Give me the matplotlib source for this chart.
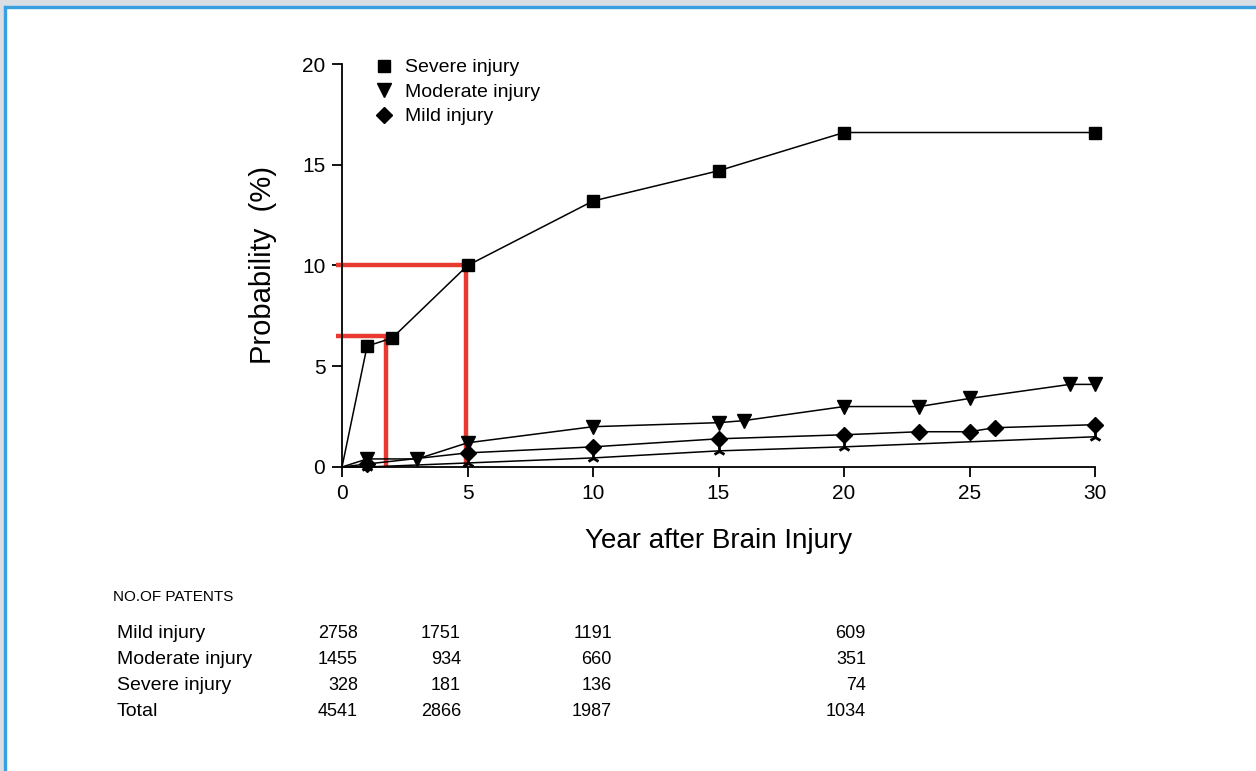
import matplotlib
matplotlib.use("Agg")
import matplotlib.pyplot as plt
from matplotlib.patches import Rectangle

plt.rcParams["font.family"] = ["Liberation Sans", "DejaVu Sans"]

# probability (%) by year after injury
severe_x = [0, 1, 2, 5, 10, 15, 20, 30]
severe_y = [0, 6.0, 6.4, 10.0, 13.2, 14.7, 16.6, 16.6]

moderate_x = [0, 1, 3, 5, 10, 15, 16, 20, 23, 25, 29, 30]
moderate_y = [0, 0.4, 0.4, 1.2, 2.0, 2.2, 2.3, 3.0, 3.0, 3.4, 4.1, 4.1]

mild_x = [0, 1, 5, 10, 15, 20, 23, 25, 26, 30]
mild_y = [0, 0.15, 0.7, 1.0, 1.4, 1.6, 1.75, 1.75, 1.95, 2.1]

other_x = [0, 1, 5, 10, 15, 20, 30]
other_y = [0, 0.0, 0.2, 0.45, 0.8, 1.0, 1.5]

# red guide lines: (x, y)
guides = [(1.75, 6.5), (4.95, 10.0)]

x_ticks = [0, 5, 10, 15, 20, 25, 30]
y_ticks = [0, 5, 10, 15, 20]

table_rows = ["Mild injury", "Moderate injury", "Severe injury", "Total"]
table_vals = [
    [2758, 1751, 1191, 609],
    [1455, 934, 660, 351],
    [328, 181, 136, 74],
    [4541, 2866, 1987, 1034],
]

W, H = 1256, 771
fig = plt.figure(figsize=(W / 100, H / 100), dpi=100)

# page frame
fig.patches.append(Rectangle((0, 1 - 6 / H), 1, 6 / H, transform=fig.transFigure,
                             color="#d9dee4", zorder=0))
fig.patches.append(Rectangle((0, 0), 4 / W, 1, transform=fig.transFigure,
                             color="#d9dee4", zorder=0))
fig.patches.append(Rectangle((4 / W, 1 - 8 / H), 1, 2 / H, transform=fig.transFigure,
                             color="#3a9fe0", zorder=1))
fig.patches.append(Rectangle((4 / W, 0), 2 / W, 1 - 6 / H, transform=fig.transFigure,
                             color="#3a9fe0", zorder=1))

ax = fig.add_axes([342 / W, 1 - 467 / H, (1095 - 342) / W, (467 - 64) / H])
ax.set_xlim(0, 30)
ax.set_ylim(0, 20)

for gx, gy in guides:
    ax.plot([-0.25, gx], [gy, gy], color="#e83a30", lw=3.2, clip_on=False,
            solid_capstyle="butt", zorder=2)
    ax.plot([gx, gx], [0, gy], color="#e83a30", lw=3.2, clip_on=False,
            solid_capstyle="butt", zorder=2)

ax.plot(other_x, other_y, color="black", lw=1.1, marker="2", ms=9, mew=2,
        markevery=list(range(1, len(other_x))), clip_on=False, zorder=3)
ax.plot(mild_x, mild_y, color="black", lw=1.1, marker="D", ms=8.5,
        markevery=list(range(1, len(mild_x))), clip_on=False, zorder=4,
        label="Mild injury")
ax.plot(moderate_x, moderate_y, color="black", lw=1.1, marker="v", ms=10,
        markevery=list(range(1, len(moderate_x))), clip_on=False, zorder=4,
        label="Moderate injury")
ax.plot(severe_x, severe_y, color="black", lw=1.1, marker="s", ms=8.5,
        markevery=list(range(1, len(severe_x))), clip_on=False, zorder=4,
        label="Severe injury")

h, l = ax.get_legend_handles_labels()
ax.legend(h[::-1], l[::-1], loc="upper left", bbox_to_anchor=(0.045, 1.032),
          frameon=False, fontsize=14, handlelength=0, handletextpad=1.1,
          labelspacing=0.35, borderaxespad=0)

for s in ["top", "right"]:
    ax.spines[s].set_visible(False)
for s in ["left", "bottom"]:
    ax.spines[s].set_linewidth(1.3)
ax.set_xticks(x_ticks)
ax.set_yticks(y_ticks)
ax.tick_params(direction="out", length=7, width=1.3, labelsize=15, pad=5)
ax.set_xlabel("Year after Brain Injury", fontsize=20, labelpad=18)
ax.set_ylabel("Probability  (%)", fontsize=21, labelpad=18)

# number-at-risk table
fig.text(113 / W, 1 - 597 / H, "NO.OF PATENTS", fontsize=11, va="center", ha="left")
row_y = [633, 660, 686, 711]
col_x = [358, 461, 612, 866]
for name, vals, ry in zip(table_rows, table_vals, row_y):
    fig.text(117 / W, 1 - ry / H, name, fontsize=14, va="center", ha="left")
    for v, cx in zip(vals, col_x):
        fig.text(cx / W, 1 - ry / H, str(v), fontsize=13, va="center", ha="right")

fig.savefig("out.png", dpi=100)
